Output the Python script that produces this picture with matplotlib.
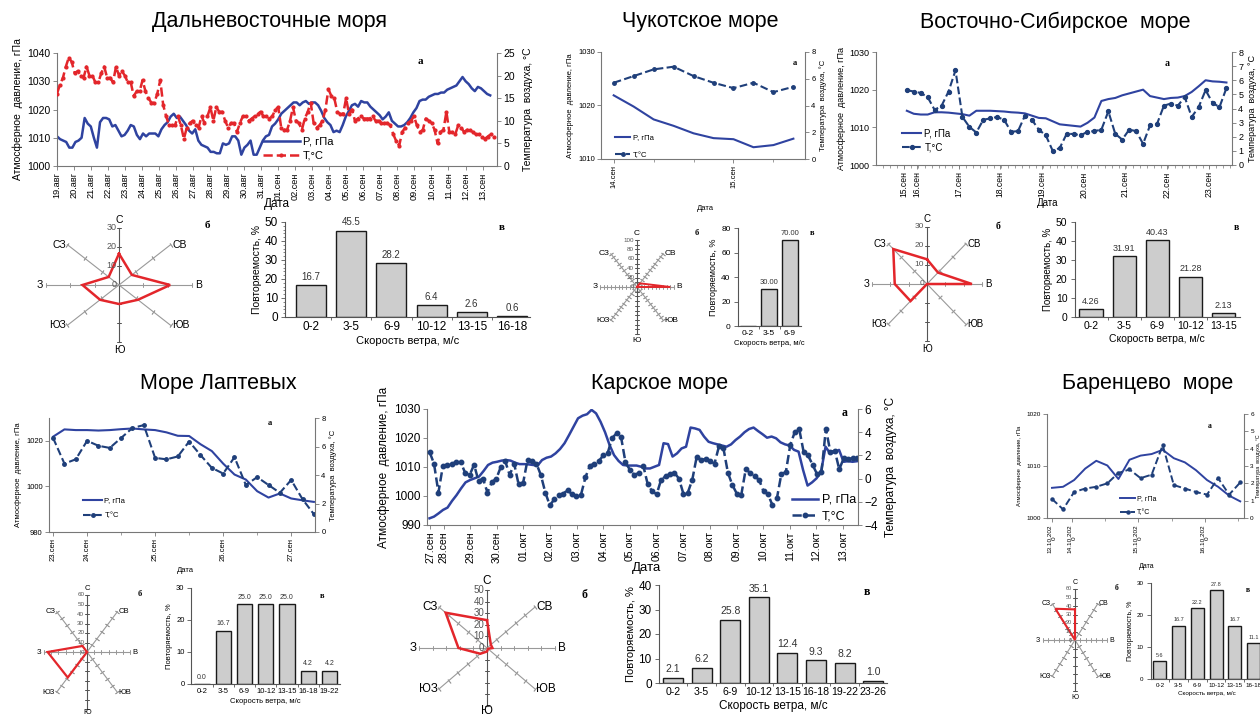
import numpy as np
import matplotlib
matplotlib.use('Agg')
import matplotlib.pyplot as plt

plt.rcParams['font.family'] = ['Liberation Sans', 'DejaVu Sans']

W, H = 1260, 716
fig = plt.figure(figsize=(12.6, 7.16), dpi=100)

# ---------------- DATA ----------------
titles = ["Дальневосточные моря", "Чукотское море", "Восточно-Сибирское  море",
          "Море Лаптевых", "Карское море", "Баренцево  море"]
directions = ["С", "СВ", "В", "ЮВ", "Ю", "ЮЗ", "З", "СЗ"]

# Дальневосточные моря
dv_dates = ["19.авг", "20.авг", "21.авг", "22.авг", "23.авг", "24.авг", "25.авг", "26.авг",
            "27.авг", "28.авг", "29.авг", "30.авг", "31.авг", "01.сен", "02.сен", "03.сен",
            "04.сен", "05.сен", "06.сен", "07.сен", "08.сен", "09.сен", "10.сен", "11.сен",
            "12.сен", "13.сен"]
dv_P = [1010.5, 1009.5, 1009, 1008.5, 1006.5, 1006.5, 1008.5, 1009, 1010, 1017, 1015, 1014, 1010,
        1006.5, 1015.5, 1017, 1017, 1016.5, 1014, 1014.5, 1012.5, 1010.5, 1011, 1012.5, 1014.5,
        1014, 1011, 1009.5, 1011.5, 1010.5, 1011.5, 1011.5, 1011.5, 1010.5, 1013, 1014.5, 1015.5,
        1017.5, 1018.5, 1017, 1017.5, 1016, 1014.5, 1012.5, 1011.5, 1013, 1009, 1007.5, 1007,
        1006.5, 1005, 1005, 1004.5, 1004.5, 1008, 1007.5, 1008, 1010.5, 1010.5, 1009, 1004, 1006.5,
        1007.5, 1009, 1004, 1004, 1006.5, 1009, 1010.5, 1011, 1014, 1015, 1016.5, 1018.5, 1019.5,
        1020.5, 1021.5, 1022.5, 1022.5, 1021.5, 1022.5, 1023, 1022, 1022.5, 1022.5, 1021.5, 1019.5,
        1017, 1015.5, 1014.5, 1012, 1012.5, 1012, 1014.5, 1017.5, 1019.5, 1021.5, 1022, 1021, 1023,
        1022.5, 1022.5, 1021, 1020, 1019, 1018, 1016.5, 1017.5, 1019, 1016, 1015, 1014, 1014,
        1014.5, 1015.5, 1017, 1019, 1020.5, 1023, 1023.5, 1023.5, 1024.5, 1025, 1025.5, 1025.5,
        1026, 1026, 1027, 1027.5, 1028, 1028.5, 1030, 1031.5, 1030, 1029, 1027.5, 1026.5, 1028,
        1027.5, 1026.5, 1025.5, 1025]
dv_T = [16, 18, 19.5, 22, 24, 23, 20.5, 21, 20, 19.5, 22, 20, 20, 18.5, 18.5, 20.5, 22, 19.5, 19.5,
        18.5, 22, 20, 21, 20, 18.5, 18.5, 15.5, 16.5, 16.5, 19, 16.5, 15, 14, 14, 16, 19, 13.5, 11,
        9, 9, 9, 11, 9, 6, 8.5, 9.5, 10, 9, 8.5, 11, 9.5, 11, 13, 10, 13, 12, 12, 10, 8.5, 9.5, 9.5,
        7.5, 9.5, 11, 11, 10, 10.5, 11, 11.5, 12, 11, 11, 10.5, 11, 12.5, 13, 8.5, 8, 8, 10, 13, 10,
        9.5, 8, 10.5, 12, 14, 9.5, 8.5, 9, 10, 12.5, 17, 15.5, 15, 12, 11.5, 11.5, 15, 11.5, 12.5,
        10, 10.5, 11, 10.5, 10.5, 10.5, 11, 10, 10, 9.5, 9.5, 9.5, 9, 7, 5.5, 4.5, 7.5, 8.5, 9.5,
        10, 11, 9, 7.5, 8, 10.5, 10, 9.5, 8, 5, 7.5, 8, 12, 7.5, 7.5, 7, 9, 8.5, 7.5, 8, 8, 7.5, 7,
        7, 6.5, 6, 6.5, 7, 6.5]
dv_rose = [16.5, 7.5, 21, 11, 10, 11, 15, 6]
dv_bins = ["0-2", "3-5", "6-9", "10-12", "13-15", "16-18"]
dv_freq = [16.7, 45.5, 28.2, 6.4, 2.6, 0.6]

# Чукотское море
ch_dates = ["14.сен", "15.сен"]
ch_P = [1021.9, 1019.8, 1017.4, 1016.2, 1014.8, 1013.9, 1013.7, 1012.2, 1012.6, 1013.8]
ch_T = [5.7, 6.2, 6.7, 6.9, 6.2, 5.7, 5.3, 5.7, 5.0, 5.4]
ch_rose = [0, 11, 90, 0, 0, 0, 0, 0]
ch_bins = ["0-2", "3-5", "6-9"]
ch_freq = [0.0, 30.0, 70.0]

# Восточно-Сибирское море
es_dates = ["15.сен", "16.сен", "17.сен", "18.сен", "19.сен", "20.сен", "21.сен", "22.сен", "23.сен"]
es_date_pos = [-0.32, 0, 1, 2, 3, 4, 5, 6, 7]
es_P = [1014.4, 1013.6, 1013.4, 1013.4, 1014.0, 1014.0, 1013.9, 1013.7, 1013.5, 1013.1, 1014.4,
        1014.4, 1014.4, 1014.3, 1014.2, 1014.0, 1013.9, 1013.7, 1013.1, 1012.5, 1012.4, 1011.6,
        1010.8, 1010.6, 1010.4, 1010.2, 1011.2, 1012.6, 1017.0, 1017.5, 1017.8, 1018.5, 1019.0,
        1019.5, 1020.0, 1018.3, 1017.9, 1017.5, 1017.8, 1017.9, 1018.3, 1019.4, 1020.9, 1022.5,
        1022.2, 1022.1, 1021.9]
es_T = [5.3, 5.2, 5.1, 4.8, 3.9, 4.2, 5.2, 6.7, 3.4, 2.7, 2.3, 3.2, 3.3, 3.4, 3.2, 2.35, 2.4, 3.5,
        3.2, 2.5, 2.1, 1.0, 1.2, 2.2, 2.2, 2.1, 2.35, 2.4, 2.5, 3.8, 2.2, 1.8, 2.5, 2.4, 1.5, 2.8,
        2.9, 4.2, 4.35, 4.2, 4.8, 3.4, 4.1, 5.3, 4.4, 4.1, 5.45]
es_rose = [13, 8.5, 24.5, 0, 0, 12.7, 17.6, 26]
es_bins = ["0-2", "3-5", "6-9", "10-12", "13-15"]
es_freq = [4.26, 31.91, 40.43, 21.28, 2.13]

# Море Лаптевых
la_dates = ["23.сен", "24.сен", "25.сен", "26.сен", "27.сен"]
la_date_pos = [-0.5, 0, 1, 2, 3]
la_P = [1021.8, 1025.0, 1024.7, 1024.7, 1024.5, 1024.7, 1025.1, 1025.4, 1025.0, 1024.7, 1023.7,
        1022.2, 1022.1, 1018.5, 1015.5, 1010.0, 1005.2, 1003.0, 997.9, 995.1, 996.9, 994.7,
        993.9, 993.2]
la_T = [6.6, 4.8, 5.1, 6.4, 6.05, 5.9, 6.6, 7.3, 7.5, 5.2, 5.1, 5.3, 6.35, 5.4, 4.5, 4.1, 5.25,
        3.3, 3.85, 3.3, 2.75, 3.65, 2.3, 1.25]
la_rose = [0, 0, 0, 0, 0, 38, 55, 9]
la_bins = ["0-2", "3-5", "6-9", "10-12", "13-15", "16-18", "19-22"]
la_freq = [0.0, 16.7, 25.0, 25.0, 25.0, 4.2, 4.2]

# Карское море
ka_dates = ["27.сен", "28.сен", "29.сен", "30.сен", "01.окт", "02.окт", "03.окт", "04.окт",
            "05.окт", "06.окт", "07.окт", "08.окт", "09.окт", "10.окт", "11.окт", "12.окт", "13.окт"]
ka_date_pos = [-0.5, 0, 1, 2, 3, 4, 5, 6, 7, 8, 9, 10, 11, 12, 13, 14, 15]
ka_P = [992.3, 992.9, 994.0, 995.2, 996.0, 998.3, 1000.3, 1002.6, 1004.7, 1005.5, 1006.1, 1006.7,
        1008.6, 1010.7, 1011.5, 1011.8, 1012.2, 1012.4, 1012.2, 1011.5, 1011.0, 1011.0, 1010.9,
        1010.7, 1010.5, 1012.4, 1013.2, 1013.6, 1014.7, 1016.2, 1018.2, 1021.0, 1023.9, 1026.8,
        1027.7, 1028.2, 1029.7, 1028.5, 1025.6, 1022.0, 1017.6, 1014.1, 1012.1, 1010.7, 1010.5,
        1010.5, 1010.5, 1010.1, 1009.5, 1009.5, 1010.1, 1010.7, 1018.2, 1017.9, 1013.6, 1014.7,
        1016.4, 1017.0, 1023.6, 1023.3, 1022.8, 1020.5, 1018.7, 1018.2, 1017.8, 1017.4, 1017.0,
        1017.8, 1019.3, 1020.5, 1022.0, 1023.1, 1023.6, 1022.4, 1021.3, 1020.1, 1020.5, 1019.9,
        1018.5, 1017.8, 1017.4, 1015.9, 1015.3, 1009.0, 1003.6, 1004.7, 1006.1, 1008.4, 1017.0,
        1014.7, 1015.1, 1015.9, 1011.8, 1012.0, 1011.8, 1012.0]
ka_T = [2.3, 1.3, -1.2, 1.1, 1.2, 1.3, 1.4, 1.4, 0.5, 0.3, 1.2, -0.2, 0.0, -1.2, -0.3, 0.0, 1.0,
        1.5, 0.3, 1.3, -0.5, -0.4, 1.6, 1.5, 1.3, 0.3, -1.2, -2.3, -1.8, -1.4, -1.3, -1.0, -1.35,
        -1.5, -1.4, 0.1, 1.1, 1.3, 1.5, 2.0, 2.2, 3.5, 3.9, 3.6, 1.4, 0.75, 0.3, 0.5, 1.1, -0.5,
        -1.1, -1.35, -0.1, 0.2, 0.4, 0.5, 0.0, -1.3, -1.2, -0.1, 1.9, 1.6, 1.7, 1.5, 1.3, 2.8, 2.6,
        0.5, -0.55, -1.3, -1.4, 0.8, 0.5, 0.2, -0.1, -1.1, -1.35, -2.3, -1.7, 0.4, 0.55, 2.9, 4.0,
        4.3, 2.3, 2.0, 1.2, 0.4, 0.55, 4.3, 2.3, 2.4, 0.8, 1.75, 1.7, 1.75, 1.8]
ka_rose = [24, 4, 4, 1, 3, 7, 21, 43]
ka_bins = ["0-2", "3-5", "6-9", "10-12", "13-15", "16-18", "19-22", "23-26"]
ka_freq = [2.1, 6.2, 25.8, 35.1, 12.4, 9.3, 8.2, 1.0]

# Баренцево море
ba_dates = ["13.10.202\n0", "14.10.202\n0", "15.10.202\n0", "16.10.202\n0"]
ba_date_pos = [-0.3, 0, 1, 2]
ba_P = [1005.8, 1006.0, 1007.3, 1009.5, 1011.0, 1010.1, 1007.5, 1011.2, 1012.0, 1012.3, 1013.1,
        1011.5, 1010.7, 1009.2, 1007.3, 1006.0, 1004.3, 1003.2]
ba_T = [1.1, 0.5, 1.5, 1.7, 1.8, 2.0, 2.6, 2.8, 2.3, 2.5, 4.2, 1.9, 1.7, 1.5, 1.35, 2.3, 1.35, 2.05]
ba_rose = [36, 0, 0, 0, 0, 0, 0, 52]
ba_bins = ["0-2", "3-5", "6-9", "10-12", "13-15", "16-18"]
ba_freq = [5.6, 16.7, 22.2, 27.8, 16.7, 11.1]

# ---------------- HELPERS ----------------
BLUE = '#2f43a0'
NAVY = '#1f3f7a'
RED = '#e3262b'
GRAY = '#777777'


def rect(x0, y0, x1, y1):
    return [x0 / W, 1 - y1 / H, (x1 - x0) / W, (y1 - y0) / H]


def ftext(x, y, s, **kw):
    fig.text(x / W, 1 - y / H, s, **kw)


def letter(x, y, s, fs):
    ftext(x, y, s, ha='center', va='center', fontsize=fs, fontweight='bold',
          family=['Liberation Serif', 'DejaVu Serif'])


def line_panel(box, xP, P, xT, T, xlim, plim, pticks, tlim, tticks, xtp, xtl, fs,
               tcol, leg, date_xy, date_fs, ylab_fs, lw=1.5, ms=2.5, minor=None,
               hl=2.2, lsp=0.4, xfs=None, rpad=3, rlab_fs=None):
    ax = fig.add_axes(rect(*box))
    ax2 = ax.twinx()
    lp, = ax.plot(xP, P, color=BLUE, lw=lw)
    lt, = ax2.plot(xT, T, color=tcol, ls='--', lw=lw, marker='o', ms=ms,
                   mfc=tcol, mec=tcol)
    ax.set_xlim(*xlim)
    ax.set_ylim(*plim)
    ax2.set_ylim(*tlim)
    ax.set_yticks(pticks)
    ax2.set_yticks(tticks)
    ax.set_xticks(xtp)
    ax.set_xticklabels(xtl, rotation=90, fontsize=xfs or fs, linespacing=0.9)
    if minor is not None:
        ax.set_xticks(minor, minor=True)
    for a in (ax, ax2):
        for s in a.spines.values():
            s.set_color(GRAY)
            s.set_linewidth(0.8)
        a.spines['top'].set_visible(False)
        a.tick_params(axis='y', labelsize=fs, length=3, width=0.6, color=GRAY, pad=1.5)
        a.tick_params(axis='x', length=3, width=0.6, color=GRAY, pad=1.5)
        a.tick_params(which='minor', length=2, width=0.5, color=GRAY)
    ax.spines['right'].set_visible(False)
    ax2.spines['left'].set_visible(False)
    ax2.spines['bottom'].set_visible(False)
    ax.set_ylabel('Атмосферное  давление, гПа', fontsize=ylab_fs, labelpad=3)
    ax2.set_ylabel('Температура  воздуха, °C', fontsize=rlab_fs or ylab_fs, labelpad=rpad)
    ftext(date_xy[0], date_xy[1], 'Дата', ha='center', va='center', fontsize=date_fs)
    lx, ly, lfs = leg
    ax2.legend([lp, lt], ['P, гПа', 'T,°C'], loc='upper left',
               bbox_to_anchor=(lx / W, 1 - ly / H), bbox_transform=fig.transFigure,
               frameon=False, fontsize=lfs, handlelength=hl, labelspacing=lsp,
               borderpad=0, borderaxespad=0, handletextpad=0.3)
    return ax


def rose(center, hx, hy, R, step, lab_step, vals, fs_dir, fs_tick, k=1.3, lw=1.8,
         s_off=2):
    cx, cy = center
    ax = fig.add_axes(rect(cx - hx * k, cy - hy * k, cx + hx * k, cy + hy * k))
    ax.set_xlim(-R * k, R * k)
    ax.set_ylim(-R * k, R * k)
    ax.axis('off')
    th = np.deg2rad(np.arange(8) * 45.0)
    ticks = np.arange(step, R + 1e-9, step)
    for i, t in enumerate(th):
        col = '#555555' if i in (0, 4) else '#999999'
        ax.plot([0, R * np.sin(t)], [0, R * np.cos(t)], color=col, lw=0.8, zorder=1)
        phi = np.degrees(np.arctan2(np.cos(t) * hy, np.sin(t) * hx))
        ax.plot(ticks * np.sin(t), ticks * np.cos(t), ls='none', marker=(2, 2, phi),
                ms=3.5, mew=0.6, color=col, zorder=1)
    v = np.array(list(vals) + [vals[0]], dtype=float)
    tt = np.append(th, th[0])
    ax.plot(v * np.sin(tt), v * np.cos(tt), color=RED, lw=lw, zorder=3,
            solid_joinstyle='miter')
    offs = [((0, 2), 'center', 'bottom'), ((1, 0), 'left', 'center'),
            ((2, 0), 'left', 'center'), ((1, 0), 'left', 'center'),
            ((0, -s_off), 'center', 'top'), ((-1, 0), 'right', 'center'),
            ((-2, 0), 'right', 'center'), ((-1, 0), 'right', 'center')]
    for d, t, (o, ha, va) in zip(directions, th, offs):
        ax.annotate(d, (R * np.sin(t), R * np.cos(t)), xytext=o, textcoords='offset points',
                    ha=ha, va=va, fontsize=fs_dir, annotation_clip=False)
    for lv in np.arange(0, R + 1e-9, lab_step):
        ax.annotate('%g' % lv, (0, lv), xytext=(-2, 0), textcoords='offset points',
                    ha='right', va='center', fontsize=fs_tick, color='#555555',
                    annotation_clip=False)
    return ax


def bars(box, cats, vals, ymax, ystep, fmt, show_zero, fs, fs_lab, ylab_fs, xlab_fs,
         width=0.72, xlim=None, minor_step=None, yfs=None):
    ax = fig.add_axes(rect(*box))
    x = np.arange(len(cats))
    ax.bar(x, vals, width, color='#cdcdcd', edgecolor='#1a1a1a', lw=1.0)
    for xi, v in zip(x, vals):
        if v > 0 or show_zero:
            ax.text(xi, v + ymax * 0.035, fmt.format(v), ha='center', va='bottom',
                    fontsize=fs_lab, color='#333333')
    ax.set_xlim(*(xlim if xlim else (-0.5, len(cats) - 0.5)))
    ax.set_ylim(0, ymax)
    ax.set_yticks(np.arange(0, ymax + 1e-9, ystep))
    if minor_step:
        ax.set_yticks(np.arange(0, ymax + 1e-9, minor_step), minor=True)
    ax.set_xticks(x)
    ax.set_xticklabels(cats)
    ax.set_xticks(x[:-1] + 0.5, minor=True)
    for s in ('top', 'right'):
        ax.spines[s].set_visible(False)
    for s in ('left', 'bottom'):
        ax.spines[s].set_color('#555555')
        ax.spines[s].set_linewidth(0.8)
    ax.tick_params(axis='x', which='major', length=0, labelsize=fs, pad=3)
    ax.tick_params(axis='x', which='minor', length=2.5, width=0.6, color='#555555')
    ax.tick_params(axis='y', which='major', length=3, width=0.6, color='#555555',
                   labelsize=yfs or fs, pad=2)
    ax.tick_params(axis='y', which='minor', length=1.5, width=0.5, color='#555555')
    ax.set_ylabel('Повторяемость, %', fontsize=ylab_fs, labelpad=2)
    ax.set_xlabel('Скорость ветра, м/с', fontsize=xlab_fs, labelpad=2)
    return ax


# ---------------- TITLES ----------------
for (x, y), t in zip([(270, 22), (700, 22), (1055, 22), (218, 384), (660, 384), (1148, 384)],
                     titles):
    ftext(x, y, t, ha='center', va='center', fontsize=15.5)

# ---------------- Дальневосточные ----------------
line_panel((57, 53, 497, 166), np.linspace(0, 25.45, len(dv_P)), dv_P,
           np.linspace(0, 25.65, len(dv_T)), dv_T, (0, 25.85), (1000, 1040),
           range(1000, 1041, 10), (0, 25), range(0, 26, 5), range(len(dv_dates)), dv_dates,
           7.5, RED, (263, 137, 8), (277, 204), 8.5, 7.5, lw=1.8, ms=2, hl=3.3, lsp=0.35,
           xfs=6.6, rpad=6)
letter(420, 62, 'а', 8)
rose((119, 285), 73, 57, 30, 10, 10, dv_rose, 7.5, 6.5)
letter(207, 226, 'б', 8)
bars((285, 222, 530, 317), dv_bins, dv_freq, 50, 10, '{:.1f}', False, 8.5, 7, 7.5, 8,
     width=0.75, xlim=(-0.65, 5.45), minor_step=2)
letter(502, 228, 'в', 8)

# ---------------- Чукотское ----------------
line_panel((601, 52, 805, 159), np.arange(len(ch_P)) / 6, ch_P, np.arange(len(ch_T)) / 6, ch_T,
           (-0.106, 1.597), (1010, 1030), [1010, 1020, 1030], (0, 8), range(0, 9, 2),
           [0, 1], ch_dates, 5.5, NAVY, (615, 134, 5.5), (705, 208), 5.5, 5.5,
           lw=1.5, ms=2.5, minor=[1 / 3, 2 / 3, 4 / 3], hl=2.0, lsp=1.3)
letter(795, 63, 'а', 6)
rose((637, 287), 37, 47, 100, 10, 20, ch_rose, 6, 4.5, k=1.35, lw=1.4)
letter(697, 233, 'б', 6)
bars((737.5, 228, 800.5, 326), ch_bins, ch_freq, 80, 20, '{:.2f}', False, 6, 5.5, 6.5, 5.5,
     width=0.72)
letter(812, 233, 'в', 6)

# ---------------- Восточно-Сибирское ----------------
es_x = -0.24 + np.arange(len(es_T)) / 6
line_panel((876, 52, 1232, 165), es_x, es_P, es_x, es_T, (-0.98, 7.56), (1000, 1030),
           range(1000, 1031, 10), (0, 8), range(0, 9), es_date_pos, es_dates, 6.5, NAVY,
           (902, 128, 7), (1048, 203), 7, 6.5, lw=1.5, ms=2.8,
           minor=np.arange(-0.98 + 1 / 6, 7.56, 1 / 6), hl=2.0, lsp=0.45, xfs=6.2)
letter(1167, 64, 'а', 7)
rose((927, 284), 55, 57, 30, 10, 10, es_rose, 7, 6)
letter(998, 227, 'б', 7)
bars((1074.5, 222, 1240, 317), es_bins, es_freq, 50, 10, '{:.2f}', False, 7.5, 6.5, 7, 7.5,
     width=0.7)
letter(1236, 228, 'в', 7)

# ---------------- Лаптевых ----------------
la_x = -0.5 + np.arange(len(la_T)) / 6
line_panel((49, 418, 315, 532), la_x, la_P, la_x, la_T, (-0.56, 3.35), (980, 1030),
           [980, 1000, 1020], (0, 8), range(0, 9, 2), la_date_pos, la_dates, 5.5, NAVY,
           (83, 497, 5.5), (185, 570), 5.5, 5.5, lw=1.5, ms=2.5,
           minor=[0.5, 1.5, 2.5], hl=2.5, lsp=1.0)
letter(270, 423, 'а', 6)
rose((87, 652), 43, 57, 60, 10, 10, la_rose, 5.5, 4.5, k=1.25, lw=1.6, s_off=0)
letter(140, 594, 'б', 6)
bars((191.4, 588, 340, 684), la_bins, la_freq, 30, 10, '{:.1f}', True, 5.5, 5, 5.5, 5.5,
     width=0.72)
letter(322, 596, 'в', 6)

# ---------------- Карское ----------------
line_panel((427, 409, 858, 525), np.linspace(-0.525, 15.525, len(ka_P)), ka_P,
           np.linspace(-0.525, 15.525, len(ka_T)), ka_T, (-0.62, 15.56), (990, 1030),
           range(990, 1031, 10), (-4, 6), range(-4, 7, 2), ka_date_pos, ka_dates, 8.5, NAVY,
           (792, 494, 9), (647, 568), 9.5, 8.5, lw=1.8, ms=3.2, hl=2.1, lsp=0.35,
           xfs=7.6, rpad=5)
letter(845, 413, 'а', 8.5)
rose((487, 648), 68, 58, 50, 10, 10, ka_rose, 8.5, 7, k=1.2, s_off=-1)
letter(584, 595, 'б', 8.5)
bars((658.7, 585, 887.5, 683), ka_bins, ka_freq, 40, 10, '{:.1f}', False, 7.6, 7.5, 8, 8.5,
     width=0.7, yfs=8.5)
letter(867, 592, 'в', 8.5)

# ---------------- Баренцево ----------------
ba_x = -0.3 + np.arange(len(ba_T)) / 6
line_panel((1047, 414, 1244, 518), ba_x, ba_P, ba_x, ba_T, (-0.375, 2.59), (1000, 1020),
           [1000, 1010, 1020], (0, 6), range(0, 7), ba_date_pos, ba_dates, 4.6, NAVY,
           (1120, 495, 5), (1147, 567), 5, 4.2, lw=1.4, ms=2.2,
           minor=[0.5, 1.5, 2.5], hl=2.2, lsp=1.0, rpad=1.5, rlab_fs=3.8)
letter(1210, 426, 'а', 5.5)
rose((1075, 640), 32, 51, 60, 10, 10, ba_rose, 5, 4, k=1.25, lw=1.5)
letter(1117, 588, 'б', 5.5)
bars((1150.6, 583, 1262.8, 679), ba_bins, ba_freq, 30, 10, '{:.1f}', False, 4.5, 4, 5, 4.5,
     width=0.7)
letter(1248, 590, 'в', 5.5)

fig.savefig('out.png', dpi=100)
